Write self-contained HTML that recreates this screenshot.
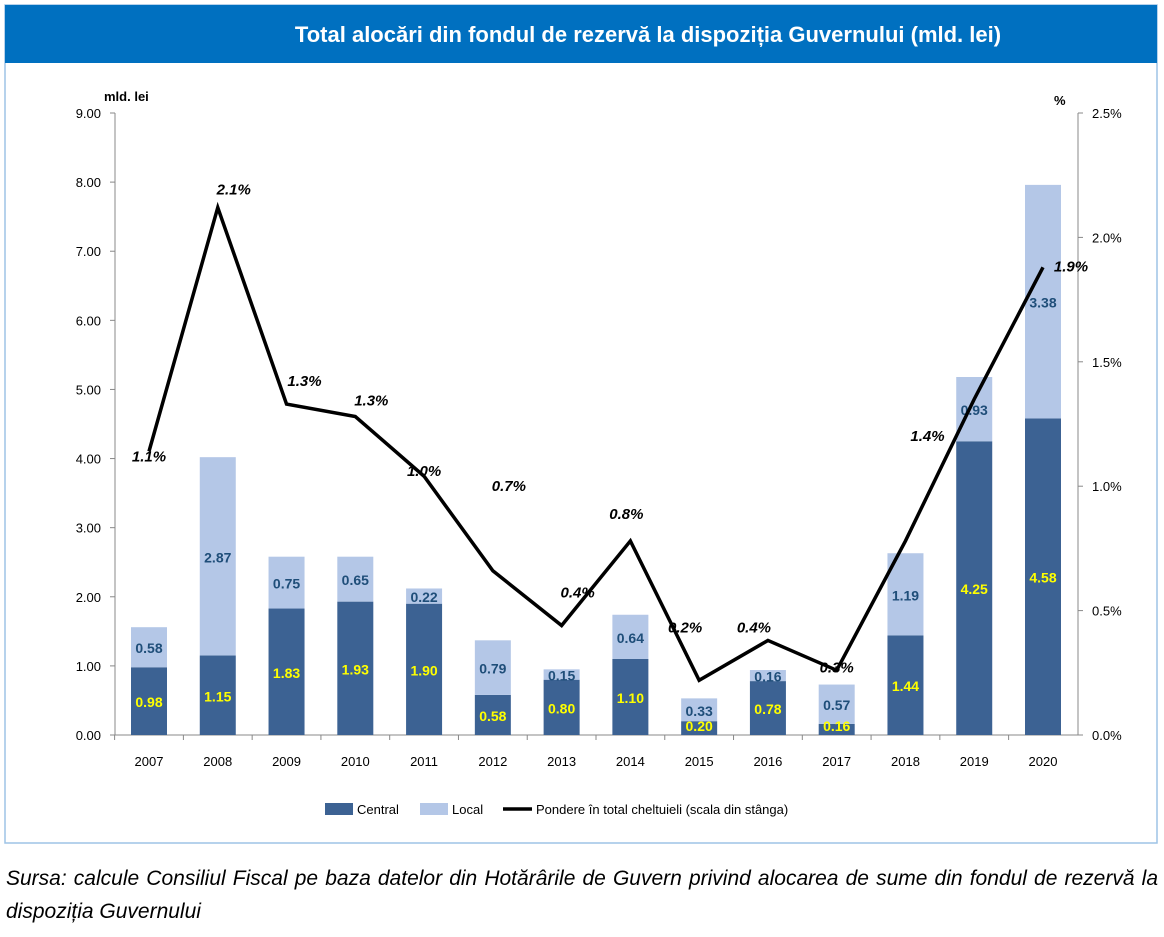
<!DOCTYPE html>
<html><head><meta charset="utf-8"><style>
body{margin:0;background:#fff;width:1164px;height:937px;overflow:hidden;font-family:"Liberation Sans",sans-serif}
#src{position:absolute;left:6px;top:862px;width:1152px;font-style:italic;font-size:21px;line-height:33px;text-align:justify;text-align-last:left;color:#000}
</style></head><body>
<svg id="c" width="1164" height="860" style="position:absolute;left:0;top:0">
<rect x="5" y="5" width="1152" height="838" fill="#fff" stroke="#9dc3e6" stroke-width="1.5"/>
<rect x="5" y="5" width="1152" height="58" fill="#0070c0"/>
<text x="648" y="42" text-anchor="middle" fill="#fff" font-size="22" font-weight="bold">Total alocări din fondul de rezervă la dispoziția Guvernului (mld. lei)</text>
<text x="104" y="101" font-size="13" font-weight="bold">mld. lei</text>
<text x="1054" y="105" font-size="13" font-weight="bold">%</text>
<g id="g"></g>
</svg>
<div id="src">Sursa: calcule Consiliul Fiscal pe baza datelor din Hotărârile de Guvern privind alocarea de sume din fondul de rezervă la dispoziția Guvernului</div>
<script>
const years=["2007","2008","2009","2010","2011","2012","2013","2014","2015","2016","2017","2018","2019","2020"];
const central=[0.98,1.15,1.83,1.93,1.90,0.58,0.80,1.10,0.20,0.78,0.16,1.44,4.25,4.58];
const local=[0.58,2.87,0.75,0.65,0.22,0.79,0.15,0.64,0.33,0.16,0.57,1.19,0.93,3.38];
const share=[1.14,2.12,1.33,1.28,1.04,0.66,0.44,0.78,0.22,0.38,0.26,0.78,1.35,1.88];
const shareLabels=["1.1%","2.1%","1.3%","1.3%","1.0%","0.7%","0.4%","0.8%","0.2%","0.4%","0.3%","1.4%","","1.9%"];
const leftTicks=[0,1,2,3,4,5,6,7,8,9];
const rightTicks=[0,0.5,1,1.5,2,2.5];
const lblDx=[0,16,18,16,0,16,16,-4,-14,-14,0,22,0,28];
const lblDy=[10,-13,-18,-11,0,-80,-28,-22,-48,-8,2,-100,0,4];
const ns="http://www.w3.org/2000/svg",g=document.getElementById('g');
const x0=115,x1=1078,yb=735,yt=113;
const yL=v=>yb-(yb-yt)*v/9, yR=v=>yb-(yb-yt)*v/2.5;
const step=(1043-149)/13, xc=i=>149+i*step, bw=36;
function mk(t,a,txt){const e=document.createElementNS(ns,t);for(const k in a)e.setAttribute(k,a[k]);if(txt!=null)e.textContent=txt;g.appendChild(e);return e;}
let e;
e=mk('line',{x1:x0,y1:yt,x2:x0,y2:yb,stroke:'#888'});


e=mk('line',{x1:x1,y1:yt,x2:x1,y2:yb,stroke:'#888'});


e=mk('line',{x1:x0,y1:yb,x2:x1,y2:yb,stroke:'#888'});


leftTicks.forEach(v=>{
 mk('line',{x1:x0-5,y1:yL(v),x2:x0,y2:yL(v),stroke:'#888'});
 e=mk('text',{x:x0-14,y:yL(v)+5,'text-anchor':'end','font-size':13},v.toFixed(2));
 
 
});
rightTicks.forEach(v=>{
 mk('line',{x1:x1,y1:yR(v),x2:x1+5,y2:yR(v),stroke:'#888'});
 e=mk('text',{x:x1+14,y:yR(v)+5,'font-size':13},v.toFixed(1)+'%');
 
 
});
years.forEach((y,i)=>{
 const x=xc(i);
 mk('line',{x1:x-step/2,y1:yb,x2:x-step/2,y2:yb+5,stroke:'#888'});
 e=mk('text',{x:x,y:yb+31,'text-anchor':'middle','font-size':13},y);
 
 
 const yc=yL(central[i]), yl=yL(central[i]+local[i]);
 e=mk('rect',{x:x-bw/2,y:yc,width:bw,height:yb-yc,fill:'#3c6293'});
 
 
 e=mk('rect',{x:x-bw/2,y:yl,width:bw,height:yc-yl,fill:'#b4c7e7'});
 
 
 e=mk('text',{x:x,y:Math.min((yc+yb)/2+6,yb-4),'text-anchor':'middle','font-size':14,'font-weight':'bold',fill:'#ffff00'},central[i].toFixed(2));
 
 
 e=mk('text',{x:x,y:(yl+yc)/2+6,'text-anchor':'middle','font-size':14,'font-weight':'bold',fill:'#1f4e79'},local[i].toFixed(2));
 
 
});
e=mk('polyline',{points:share.map((v,i)=>xc(i)+','+yR(v)).join(' '),fill:'none',stroke:'#000','stroke-width':3.5,'stroke-linejoin':'miter'});


share.forEach((v,i)=>{
 if(!shareLabels[i])return;
 e=mk('text',{x:xc(i)+lblDx[i],y:yR(v)+lblDy[i],'text-anchor':'middle','font-size':15,'font-weight':'bold','font-style':'italic'},shareLabels[i]);
 
 
});
e=mk('rect',{x:325,y:803,width:28,height:12,fill:'#3c6293'});


e=mk('text',{x:357,y:814,'font-size':13},'Central');


e=mk('rect',{x:420,y:803,width:28,height:12,fill:'#b4c7e7'});


e=mk('text',{x:452,y:814,'font-size':13},'Local');


e=mk('line',{x1:503,y1:809,x2:532,y2:809,stroke:'#000','stroke-width':3.5});


e=mk('text',{x:536,y:814,'font-size':13},'Pondere în total cheltuieli (scala din stânga)');


</script>
</body></html>
